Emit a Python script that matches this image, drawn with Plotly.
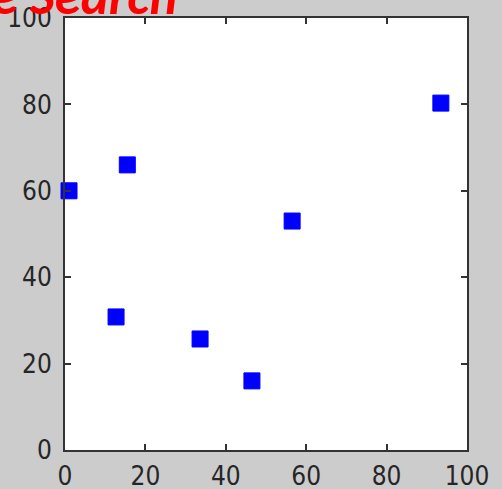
import plotly.graph_objects as go

x_vals = [1, 15.5, 12.7, 33.6, 46.5, 56.5, 93.5]
y_vals = [60, 66, 30.8, 25.7, 16, 53, 80.3]
tick_vals = [0, 20, 40, 60, 80, 100]
title_text = "e Search"

fig = go.Figure()
fig.add_trace(go.Scatter(
    x=x_vals, y=y_vals, mode="markers",
    marker=dict(symbol="square", size=16, color="#0000ff",
                line=dict(color="#0000ff", width=1)),
    cliponaxis=False, showlegend=False,
))

axis_common = dict(
    range=[0, 100], tickvals=tick_vals, ticks="inside", ticklen=6,
    tickwidth=2, tickcolor="#333333", showline=True, linecolor="#333333",
    linewidth=2, mirror="ticks", showgrid=False, zeroline=False,
    automargin=False,
    tickfont=dict(family="Liberation Sans Narrow, Arial Narrow, DejaVu Sans Condensed, sans-serif",
                  size=26, color="#262626"),
)
fig.update_xaxes(**axis_common, ticklabelstandoff=2)
fig.update_yaxes(**axis_common, ticklabelstandoff=6)

fig.add_annotation(
    text=title_text, xref="paper", yref="paper", x=0.284, y=1.0,
    xanchor="right", yanchor="bottom", showarrow=False, yshift=-12,
    font=dict(family="Carlito, Liberation Sans, sans-serif", size=53,
              color="#ff0000", weight="bold", style="italic"),
)

fig.update_layout(
    width=502, height=489,
    margin=dict(l=65, r=35, t=18, b=39),
    paper_bgcolor="#cccccc", plot_bgcolor="#ffffff",
)
fig.write_html(
    "out.html",
    config={"displayModeBar": False},
    post_script="document.body.style.margin='0';document.body.style.background='#cccccc';document.body.style.overflow='hidden';",
)
